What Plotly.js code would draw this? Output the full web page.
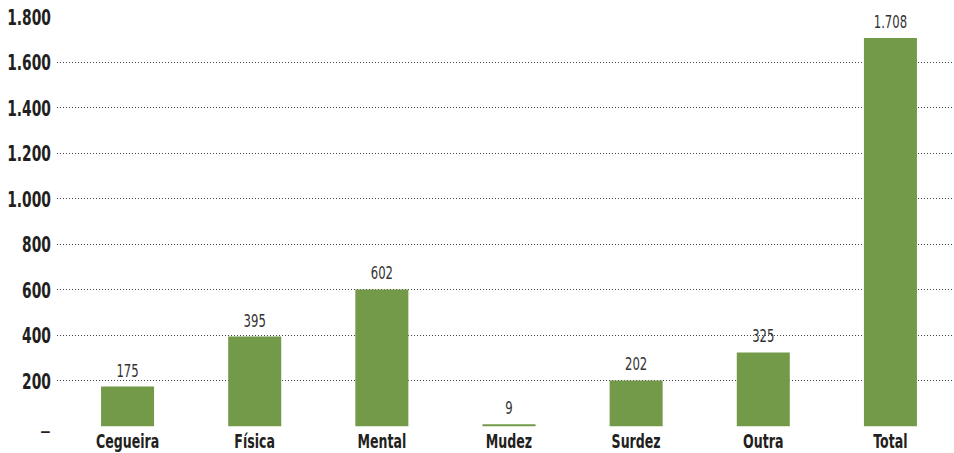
<!DOCTYPE html>
<html>
<head>
<meta charset="utf-8">
<script src="https://cdn.plot.ly/plotly-3.0.1.min.js"></script>
<style>html,body{margin:0;padding:0;background:#fff;}#chart{width:954px;height:453px;}</style>
</head>
<body>
<div id="chart"></div>
<script>
var categories = ["Cegueira", "Física", "Mental", "Mudez", "Surdez", "Outra", "Total"];
var values = [175, 395, 602, 9, 202, 325, 1708];
var valueLabels = ["175", "395", "602", "9", "202", "325", "1.708"];
var yTickVals = [0, 200, 400, 600, 800, 1000, 1200, 1400, 1600, 1800];
var yTickText = ["", "200", "400", "600", "800", "1.000", "1.200", "1.400", "1.600", "1.800"];
var zeroLabel = "–";

var condensed = "'DejaVu Sans Condensed', 'DejaVu Sans', sans-serif";

var trace = {
  type: "bar",
  x: categories,
  y: values,
  text: valueLabels,
  textposition: "outside",
  textfont: {family: condensed, size: 18, color: "#333333"},
  cliponaxis: false,
  marker: {color: "#739a49"},
  hoverinfo: "x+y"
};

var layout = {
  width: 954,
  height: 453,
  margin: {l: 57, r: 0, t: 17, b: 26},
  paper_bgcolor: "#ffffff",
  plot_bgcolor: "#ffffff",
  showlegend: false,
  bargap: 0.583,
  xaxis: {
    type: "category",
    range: [-0.555, 6.5],
    showgrid: false,
    showline: false,
    zeroline: false,
    ticks: "",
    tickfont: {family: condensed, size: 20, color: "#231f20", weight: "bold"}
  },
  yaxis: {
    range: [-3, 1800],
    tickmode: "array",
    tickvals: yTickVals,
    ticktext: yTickText,
    ticklabelstandoff: 5,
    showgrid: true,
    gridcolor: "#444444",
    gridwidth: 1,
    griddash: "1px,2px",
    zeroline: false,
    showline: false,
    ticks: "",
    tickfont: {family: condensed, size: 22, color: "#231f20", weight: "bold"}
  },
  annotations: [{
    xref: "paper", yref: "y", x: 0, y: 0,
    xanchor: "right", yanchor: "middle",
    xshift: -4, yshift: -5,
    text: zeroLabel, showarrow: false,
    font: {family: condensed, size: 24, color: "#231f20"}
  }]
};

function squeeze(sel, s, dy) {
  document.querySelectorAll(sel).forEach(function (t) {
    var b = t.getBBox();
    var cx = b.x + b.width / 2, cy = b.y + b.height / 2;
    var anchor = t.getAttribute("text-anchor");
    if (anchor === "end") cx = b.x + b.width;
    var tr = t.getAttribute("transform") || "";
    t.setAttribute("transform", tr + " translate(0," + (dy || 0) + ") translate(" + cx + "," + cy + ") scale(" + s + ",1) translate(" + (-cx) + "," + (-cy) + ")");
  });
}

Plotly.newPlot("chart", [trace], layout, {displayModeBar: false, staticPlot: true}).then(function () {
  squeeze("#chart .xtick text", 0.7, 0);
  squeeze("#chart .ytick text", 0.7, 0);
  squeeze("#chart .bartext", 0.72, -3);
});
</script>
</body>
</html>
